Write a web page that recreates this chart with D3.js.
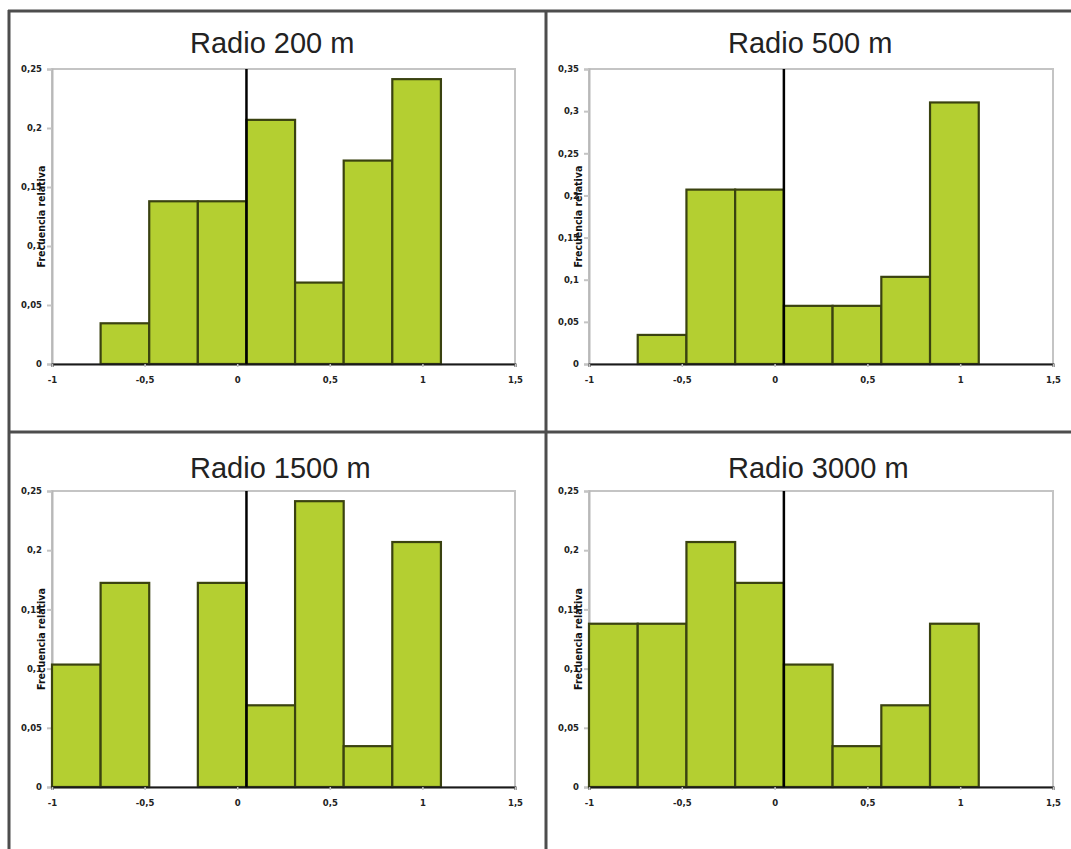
<!DOCTYPE html>
<html>
<head>
<meta charset="utf-8">
<script src="https://cdn.jsdelivr.net/npm/d3@7"></script>
<style>
  body { margin: 0; background: #fff; }
  svg { display: block; }
</style>
</head>
<body>
<div id="chart"></div>
<script>
// histogram bin edges (shared by all panels)
var binEdges = [-1, -0.7375, -0.475, -0.2125, 0.05, 0.3125, 0.575, 0.8375, 1.1];

// relative frequency per bin
var radio200 = [0, 0.0345, 0.1379, 0.1379, 0.2069, 0.069, 0.1724, 0.2414];
var radio500 = [0, 0.0345, 0.2069, 0.2069, 0.069, 0.069, 0.1034, 0.3103];
var radio1500 = [0.1034, 0.1724, 0, 0.1724, 0.069, 0.2414, 0.0345, 0.2069];
var radio3000 = [0.1379, 0.1379, 0.2069, 0.1724, 0.1034, 0.0345, 0.069, 0.1379];

var titles = ['Radio 200 m', 'Radio 500 m', 'Radio 1500 m', 'Radio 3000 m'];
var yMax = [0.25, 0.35, 0.25, 0.25];
var xTicks = [-1, -0.5, 0, 0.5, 1, 1.5];
var refLine = 0.05;

var svgWidth = 1071,
    svgHeight = 849;

var locale = d3.formatLocale({decimal: ',', thousands: '.', grouping: [3], currency: ['', ''], minus: '-'});
var fmt = function (d) { return locale.format('')(+d.toFixed(2)); };

var svg = d3.select('#chart').append('svg')
    .attr('width', svgWidth)
    .attr('height', svgHeight);

svg.append('rect').attr('width', svgWidth).attr('height', svgHeight).attr('fill', '#fff');

var panels = [
    {data: radio200, left: 52, right: 515, top: 69, bottom: 364, titleX: 190, titleY: 53},
    {data: radio500, left: 589, right: 1053, top: 69, bottom: 364, titleX: 728, titleY: 53},
    {data: radio1500, left: 52, right: 515, top: 491, bottom: 787, titleX: 190, titleY: 478},
    {data: radio3000, left: 589, right: 1053, top: 491, bottom: 787, titleX: 728, titleY: 478}
];

panels.forEach(function (p, i) {
    drawPanel(p, i);
});

// outer frame and dividers
var frame = svg.append('g').attr('stroke', '#4d4d4d').attr('stroke-width', 3);
frame.append('line').attr('x1', 8).attr('x2', svgWidth).attr('y1', 11).attr('y2', 11);
frame.append('line').attr('x1', 9).attr('x2', 9).attr('y1', 10).attr('y2', svgHeight);
frame.append('line').attr('x1', 546).attr('x2', 546).attr('y1', 10).attr('y2', svgHeight);
frame.append('line').attr('x1', 8).attr('x2', svgWidth).attr('y1', 432).attr('y2', 432);

function drawPanel(p, i) {
    var x = d3.scaleLinear().domain([-1, 1.5]).range([p.left, p.right]),
        y = d3.scaleLinear().domain([0, yMax[i]]).range([p.bottom, p.top]);

    var g = svg.append('g');

    g.append('text')
        .attr('x', p.titleX)
        .attr('y', p.titleY)
        .attr('font-family', 'Liberation Sans, Arial, sans-serif')
        .attr('font-size', 29)
        .attr('fill', '#222')
        .text(titles[i]);

    // plot area border
    g.append('rect')
        .attr('x', p.left)
        .attr('y', p.top)
        .attr('width', p.right - p.left)
        .attr('height', p.bottom - p.top)
        .attr('fill', 'none')
        .attr('stroke', '#c4c4c4')
        .attr('stroke-width', 2);

    var yAxis = d3.axisLeft(y)
        .tickValues(d3.range(0, yMax[i] + 0.001, 0.05))
        .tickSize(5)
        .tickPadding(5)
        .tickFormat(fmt);

    var ya = g.append('g')
        .attr('transform', 'translate(' + p.left + ',0)')
        .call(yAxis);
    ya.select('.domain').attr('stroke', '#b8b8b8').attr('stroke-width', 2);
    ya.selectAll('.tick line').attr('stroke', '#c4c4c4').attr('stroke-width', 2);
    ya.selectAll('.tick text')
        .attr('font-family', 'DejaVu Sans, sans-serif')
        .attr('font-weight', 'bold')
        .attr('font-size', 8.5)
        .attr('fill', '#222');

    // bars
    g.selectAll('rect.bar')
        .data(p.data.map(function (v, k) { return {v: v, x0: binEdges[k], x1: binEdges[k + 1]}; })
            .filter(function (d) { return d.v > 0; }))
        .enter().append('rect')
        .attr('class', 'bar')
        .attr('x', function (d) { return x(d.x0); })
        .attr('y', function (d) { return y(d.v); })
        .attr('width', function (d) { return x(d.x1) - x(d.x0); })
        .attr('height', function (d) { return y(0) - y(d.v); })
        .attr('fill', '#b4cf31')
        .attr('stroke', '#3a4210')
        .attr('stroke-width', 2.2);

    var xAxis = d3.axisBottom(x)
        .tickValues(xTicks)
        .tickSize(3)
        .tickPadding(10)
        .tickFormat(fmt);

    var xa = g.append('g')
        .attr('transform', 'translate(0,' + p.bottom + ')')
        .call(xAxis);
    xa.select('.domain').attr('stroke', '#1a1a1a').attr('stroke-width', 2);
    xa.selectAll('.tick line').attr('stroke', '#c4c4c4').attr('stroke-width', 1.5);
    xa.selectAll('.tick text')
        .attr('font-family', 'DejaVu Sans, sans-serif')
        .attr('font-weight', 'bold')
        .attr('font-size', 8.5)
        .attr('fill', '#222');

    // reference line
    g.append('line')
        .attr('x1', x(refLine)).attr('x2', x(refLine))
        .attr('y1', y(yMax[i])).attr('y2', y(0))
        .attr('stroke', '#000')
        .attr('stroke-width', 2.5);

    g.append('text')
        .attr('transform', 'translate(' + (p.left - 7) + ',' + ((p.top + p.bottom) / 2) + ') rotate(-90)')
        .attr('text-anchor', 'middle')
        .attr('font-family', 'DejaVu Sans Condensed, DejaVu Sans, sans-serif')
        .attr('font-weight', 'bold')
        .attr('font-size', 10.5)
        .attr('fill', '#111')
        .text('Frecuencia relativa');
}
</script>
</body>
</html>
